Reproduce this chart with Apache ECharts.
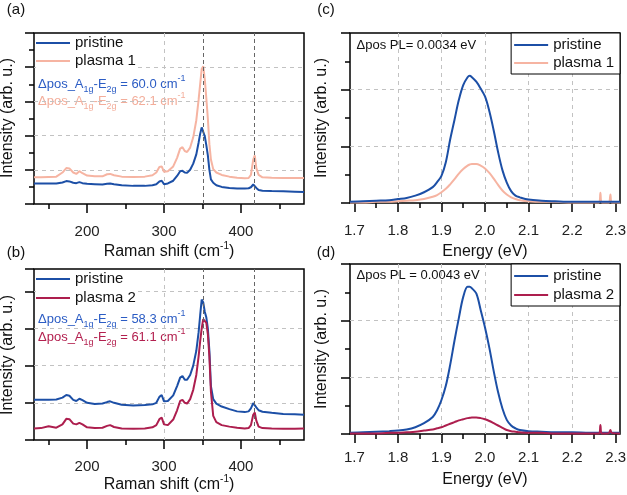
<!DOCTYPE html>
<html><head><meta charset="utf-8">
<script src="https://cdn.jsdelivr.net/npm/echarts@6/dist/echarts.min.js"></script>
<style>html,body{margin:0;padding:0;background:#fff}#c{width:627px;height:495px}</style>
</head><body><div id="c"></div>
<script>
// ---------- data ----------
const ramanShift = [131,140,150,160,168,173,177,182,186,190,194,200,210,220,226,230,235,245,260,275,285,290,294,297,300,305,312,317,321,324,327,330,334,338,342,345,347,349,351,353,355,357,359,361,364,368,375,385,395,405,410,413,416,418,420,423,428,440,455,470,482];
const ramanPristineA = [0.60,0.60,0.60,0.60,0.63,0.67,0.66,0.62,0.61,0.64,0.61,0.59,0.58,0.57,0.59,0.60,0.58,0.55,0.53,0.53,0.55,0.58,0.66,0.68,0.58,0.60,0.68,0.82,0.96,0.97,0.92,0.91,1.00,1.18,1.45,1.80,2.05,2.24,2.22,1.98,1.72,1.42,1.00,0.72,0.62,0.55,0.50,0.47,0.45,0.45,0.46,0.49,0.57,0.57,0.47,0.41,0.39,0.38,0.37,0.36,0.35];
const ramanPlasma1 = [0.78,0.78,0.79,0.80,0.92,1.05,1.04,0.92,0.88,0.96,0.90,0.83,0.81,0.81,0.87,0.88,0.84,0.80,0.79,0.80,0.84,0.92,1.08,1.10,0.94,0.96,1.10,1.35,1.62,1.66,1.55,1.52,1.65,1.95,2.45,3.05,3.50,3.95,4.03,3.65,3.10,2.50,1.75,1.30,1.02,0.92,0.85,0.80,0.77,0.75,0.76,0.85,1.30,1.42,1.05,0.85,0.78,0.77,0.76,0.76,0.76];
const ramanPristineB = [1.08,1.08,1.08,1.09,1.14,1.21,1.19,1.08,1.05,1.11,1.07,1.00,0.97,0.98,1.02,1.04,1.00,0.95,0.93,0.94,0.96,1.00,1.16,1.21,1.04,1.05,1.20,1.45,1.68,1.72,1.62,1.62,1.75,2.00,2.40,2.90,3.35,3.78,3.70,3.45,3.30,3.00,2.40,1.45,1.10,0.98,0.90,0.83,0.77,0.75,0.77,0.85,0.99,1.00,0.88,0.80,0.76,0.73,0.70,0.69,0.68];
const ramanPlasma2 = [0.31,0.32,0.37,0.33,0.42,0.57,0.56,0.44,0.42,0.46,0.42,0.34,0.32,0.33,0.38,0.40,0.35,0.31,0.30,0.31,0.34,0.40,0.56,0.60,0.42,0.40,0.55,0.80,1.05,1.08,1.00,0.98,1.10,1.35,1.75,2.25,2.65,3.00,3.25,3.29,3.15,2.85,2.25,1.30,0.65,0.48,0.40,0.36,0.33,0.31,0.32,0.40,0.68,0.74,0.52,0.36,0.32,0.31,0.30,0.30,0.31];
const ramanMarkers = [351, 417.5];
const ramanTickLabels = [200, 300, 400];
const ramanMinorTicks = [150, 250, 350, 450];

const energy = [1.69,1.72,1.75,1.78,1.80,1.82,1.84,1.86,1.88,1.89,1.90,1.91,1.92,1.93,1.94,1.95,1.96,1.965,1.97,1.98,1.99,2.00,2.01,2.02,2.03,2.04,2.05,2.06,2.07,2.08,2.10,2.13,2.16,2.20,2.24,2.262,2.265,2.268,2.28,2.285,2.288,2.291,2.31];
const plPristineC = [0.02,0.03,0.04,0.05,0.07,0.09,0.13,0.19,0.28,0.37,0.48,0.72,1.12,1.47,1.82,2.08,2.22,2.245,2.22,2.14,2.02,1.88,1.62,1.28,0.90,0.58,0.36,0.21,0.13,0.10,0.06,0.04,0.03,0.02,0.02,0.02,0.02,0.02,0.02,0.02,0.02,0.02,0.02];
const plPlasma1 = [0.01,0.01,0.02,0.02,0.03,0.04,0.05,0.07,0.11,0.14,0.19,0.25,0.33,0.42,0.52,0.60,0.66,0.68,0.69,0.69,0.66,0.61,0.53,0.43,0.32,0.22,0.15,0.10,0.07,0.05,0.03,0.02,0.02,0.01,0.01,0.01,0.18,0.01,0.01,0.01,0.15,0.01,0.01];
const plPristineD = [0.02,0.03,0.04,0.05,0.06,0.08,0.12,0.19,0.30,0.42,0.60,0.85,1.22,1.65,2.05,2.42,2.60,2.60,2.57,2.48,2.19,1.88,1.52,1.11,0.74,0.45,0.25,0.15,0.10,0.07,0.05,0.04,0.03,0.03,0.02,0.02,0.02,0.02,0.02,0.02,0.02,0.02,0.02];
const plPlasma2 = [0.01,0.01,0.01,0.02,0.02,0.03,0.04,0.06,0.08,0.10,0.12,0.15,0.18,0.21,0.24,0.26,0.28,0.285,0.29,0.29,0.28,0.26,0.23,0.19,0.15,0.11,0.07,0.05,0.04,0.03,0.02,0.02,0.01,0.01,0.01,0.01,0.16,0.01,0.01,0.02,0.07,0.02,0.01];
const energyTickLabels = [1.7,1.8,1.9,2.0,2.1,2.2,2.3];
const energyMinorTicks = [1.75,1.85,1.95,2.05,2.15,2.25];

// ---------- style ----------
const FF = '"Liberation Sans", Arial, sans-serif';
const C_PRI = '#1c4fa6', C_PRI_TXT = '#2b5cc4';
const C_P1 = '#f6b4a2', C_P2 = '#ad1e4e';
const GRID_COL = '#c2c2c2';

const grids = [
  {left:34, top:33, width:270, height:171},
  {left:34, top:269, width:270, height:171},
  {left:350, top:33, width:270, height:170},
  {left:350, top:264, width:270, height:170}
];
const labelMargins = [20, 19, 20, 16];

function xAxesFor(g, min, max, labels, minors, fmt) {
  const major = {
    type:'value', gridIndex:g, position:'bottom', min:min, max:max, splitNumber:4,
    axisLine:{show:false},
    axisTick:{show:true, customValues:labels, length:9, lineStyle:{color:'#000', width:1.5}},
    axisLabel:{show:true, customValues:labels, margin:labelMargins[g], fontSize:15, fontFamily:FF, color:'#222', formatter:fmt},
    splitLine:{show:true, showMinLine:false, showMaxLine:false, lineStyle:{color:GRID_COL, type:[4,4], width:1}}
  };
  const minor = {
    type:'value', gridIndex:g, position:'bottom', min:min, max:max, splitNumber:4,
    axisLine:{show:false},
    axisTick:{show:true, customValues:minors, length:5, lineStyle:{color:'#000', width:1.5}},
    axisLabel:{show:false}, splitLine:{show:false}
  };
  return [major, minor];
}
function yAxisFor(g, max, withMinor) {
  return {
    type:'value', gridIndex:g, min:0, max:max, interval:1,
    axisLine:{show:false},
    axisTick:{show:true, length:9, lineStyle:{color:'#000', width:1.5}},
    minorTick:{show:withMinor, splitNumber:2, length:5, lineStyle:{color:'#000', width:1.5}},
    axisLabel:{show:false},
    splitLine:{show:true, showMinLine:false, showMaxLine:false, lineStyle:{color:GRID_COL, type:[4,4], width:1}}
  };
}
function pairs(xs, ys) { return xs.map((x, i) => [x, ys[i]]); }
function line(name, xs, ys, idx, color, extra) {
  return Object.assign({
    type:'line', name:name, xAxisIndex:idx*2, yAxisIndex:idx, data:pairs(xs, ys),
    symbol:'none', showSymbol:false, smooth:false, animation:false,
    lineStyle:{color:color, width:2}, itemStyle:{color:color}, emphasis:{disabled:true}
  }, extra || {});
}
const markerLines = {
  markLine:{silent:true, symbol:['none','none'], label:{show:false}, animation:false,
    lineStyle:{color:'#666', type:[4,3], width:1},
    data: ramanMarkers.map(v => ({xAxis:v}))}
};
const plSmooth = {smooth:0.35};
const fmt1 = v => Number(v).toFixed(1);

function legend(opts) {
  return Object.assign({
    orient:'vertical', icon:'rect', itemWidth:34, itemHeight:2, itemGap:0,
    selectedMode:false, backgroundColor:'#fff',
    textStyle:{fontSize:15, fontFamily:FF, color:'#111', lineHeight:18}
  }, opts);
}

function richText(x, y, str, color, align) {
  return {
    type:'text', x:x, y:y, silent:true,
    style:{
      text:str, font:'13px ' + FF, fill:color, lineHeight:20,
      textAlign:align || 'left', textVerticalAlign:'middle',
      rich:{
        sub:{fontSize:9, fontFamily:FF, fill:color, lineHeight:12, verticalAlign:'bottom'},
        sup:{fontSize:9, fontFamily:FF, fill:color, lineHeight:17, verticalAlign:'top'}
      }
    }
  };
}
function titleText(x, y, str) {
  return {
    type:'text', x:x, y:y, silent:true,
    style:{
      text:str, font:'16px ' + FF, fill:'#111', lineHeight:22,
      textAlign:'center', textVerticalAlign:'middle',
      rich:{ sup:{fontSize:10, fontFamily:FF, fill:'#111', lineHeight:19, verticalAlign:'top'} }
    }
  };
}
function plainText(x, y, str, size, rot) {
  return {
    type:'text', x:x, y:y, rotation:rot || 0, silent:true,
    style:{text:str, font:size + 'px ' + FF, fill:'#111', textAlign:'center', textVerticalAlign:'middle'}
  };
}

const option = {
  animation:false,
  backgroundColor:'#fff',
  grid: grids.map(g => Object.assign({show:true, borderColor:'#000', borderWidth:1.5, backgroundColor:'transparent', containLabel:false, outerBoundsMode:'none'}, g)),
  xAxis: [].concat(
    xAxesFor(0, 131, 482, ramanTickLabels, ramanMinorTicks),
    xAxesFor(1, 131, 482, ramanTickLabels, ramanMinorTicks),
    xAxesFor(2, 1.69, 2.31, energyTickLabels, energyMinorTicks, fmt1),
    xAxesFor(3, 1.69, 2.31, energyTickLabels, energyMinorTicks, fmt1)
  ),
  yAxis: [yAxisFor(0, 5, true), yAxisFor(1, 4.6, false), yAxisFor(2, 3, true), yAxisFor(3, 3, true)],
  legend: [
    legend({left:36, top:34, padding:0, data:['pristine','plasma 1']}),
    legend({left:36, top:270, padding:0, itemGap:1, data:['pristine','plasma 2']}),
    legend({right:7, top:33, padding:[3,6,2,3], borderColor:'#000', borderWidth:1, data:['pristine','plasma 1']}),
    legend({right:7, top:264, padding:[3,6,2,3], itemGap:1, borderColor:'#000', borderWidth:1, data:['pristine','plasma 2']})
  ],
  series: [
    line('pristine', ramanShift, ramanPristineA, 0, C_PRI, markerLines),
    line('plasma 1', ramanShift, ramanPlasma1, 0, C_P1),
    line('pristine', ramanShift, ramanPristineB, 1, C_PRI, markerLines),
    line('plasma 2', ramanShift, ramanPlasma2, 1, C_P2),
    line('plasma 1', energy, plPlasma1, 2, C_P1, plSmooth),
    line('pristine', energy, plPristineC, 2, C_PRI, plSmooth),
    line('pristine', energy, plPristineD, 3, C_PRI, plSmooth),
    line('plasma 2', energy, plPlasma2, 3, C_P2, plSmooth)
  ],
  graphic: [
    plainText(16, 10, '(a)', 15), plainText(16, 253, '(b)', 15),
    plainText(326, 10, '(c)', 15), plainText(326, 253, '(d)', 15),
    plainText(8, 118, 'Intensity (arb. u.)', 16, Math.PI/2),
    plainText(8, 355, 'Intensity (arb. u.)', 16, Math.PI/2),
    plainText(322, 118, 'Intensity (arb. u.)', 16, Math.PI/2),
    plainText(322, 349, 'Intensity (arb. u.)', 16, Math.PI/2),
    titleText(169, 252, 'Raman shift (cm{sup|-1})'),
    titleText(169, 485, 'Raman shift (cm{sup|-1})'),
    titleText(485, 251.5, 'Energy (eV)'),
    titleText(485, 480, 'Energy (eV)'),
    richText(38, 84, 'Δpos_A{sub|1g}-E{sub|2g} = 60.0 cm{sup|-1}', C_PRI_TXT),
    richText(38, 101, 'Δpos_A{sub|1g}-E{sub|2g} = 62.1 cm{sup|-1}', '#f3ad9a'),
    richText(38, 319, 'Δpos_A{sub|1g}-E{sub|2g} = 58.3 cm{sup|-1}', C_PRI_TXT),
    richText(38, 337, 'Δpos_A{sub|1g}-E{sub|2g} = 61.1 cm{sup|-1}', '#b3204f'),
    richText(356.5, 45, 'Δpos PL= 0.0034 eV', '#111'),
    richText(356.5, 275.5, 'Δpos PL = 0.0043 eV', '#111')
  ]
};
const chart = echarts.init(document.getElementById('c'), null, {renderer:'canvas'});
chart.setOption(option);
</script>
</body></html>
